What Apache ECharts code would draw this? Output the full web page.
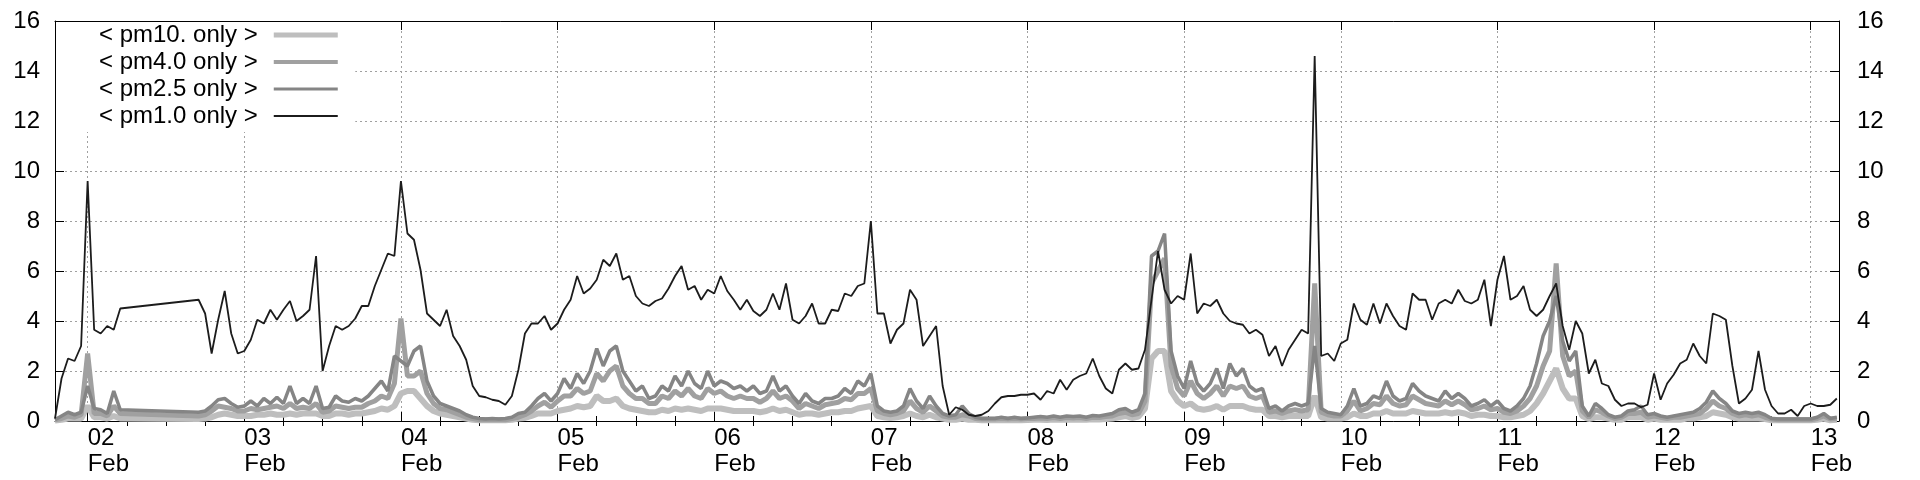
<!DOCTYPE html>
<html>
<head>
<meta charset="utf-8">
<title>pm only</title>
<script src="https://cdn.jsdelivr.net/npm/echarts@6/dist/echarts.min.js"></script>
<style>
  html, body { margin: 0; padding: 0; background: #fff; }
  #chart { width: 1920px; height: 480px; }
</style>
</head>
<body>
<div id="chart"></div>
<script>
// hourly samples, first one at 01 Feb 19:00; null = no data (line bridges the gap)
const YEAR = 2019;
const START = new Date(YEAR, 1, 1, 19, 0).getTime();
const END = new Date(YEAR, 1, 13, 4, 20).getTime();
const HOUR = 3600000;

const days = [2, 3, 4, 5, 6, 7, 8, 9, 10, 11, 12, 13];
const dayLabels = ["02", "03", "04", "05", "06", "07", "08", "09", "10", "11", "12", "13"];
const monthLabel = "Feb";
const yTicks = [0, 2, 4, 6, 8, 10, 12, 14, 16];

const seriesNames = ["< pm10. only >", "< pm4.0 only >", "< pm2.5 only >", "< pm1.0 only >"];

const pm1 = [
  0.1, 1.7, 2.5, 2.4, 3.0, 9.6, 3.65, 3.5, 3.8, 3.65,
  4.5, null, null, null, null, null, null, null, null, null,
  null, null, 4.85, 4.3, 2.7, 4.05, 5.2, 3.5, 2.7, 2.8,
  3.25, 4.05, 3.9, 4.45, 4.05, 4.45, 4.8, 4.0, 4.2, 4.45,
  6.6, 2.0, 3.0, 3.8, 3.65, 3.8, 4.1, 4.6, 4.6, 5.4,
  6.05, 6.7, 6.6, 9.6, 7.5, 7.25, 6.05, 4.3, 4.05, 3.8,
  4.45, 3.4, 3.0, 2.45, 1.4, 1.0, 0.95, 0.85, 0.8, 0.65,
  1.0, 2.05, 3.5, 3.9, 3.9, 4.2, 3.65, 3.9, 4.45, 4.85,
  5.8, 5.1, 5.3, 5.65, 6.45, 6.2, 6.7, 5.65, 5.8, 5.0,
  4.7, 4.6, 4.8, 4.9, 5.3, 5.8, 6.2, 5.25, 5.4, 4.85,
  5.25, 5.1, 5.8, 5.2, 4.85, 4.45, 4.85, 4.4, 4.2, 4.45,
  5.1, 4.45, 5.5, 4.05, 3.9, 4.2, 4.7, 3.9, 3.9, 4.45,
  4.4, 5.1, 5.0, 5.4, 5.5, 8.0, 4.3, 4.3, 3.1, 3.65,
  3.9, 5.25, 4.85, 3.0, 3.4, 3.8, 1.4, 0.25, 0.55, 0.45,
  0.25, 0.2, 0.25, 0.4, 0.7, 0.95, 1.0, 1.0, 1.05, 1.05,
  1.1, 0.85, 1.2, 1.1, 1.65, 1.25, 1.65, 1.8, 1.9, 2.5,
  1.8, 1.3, 1.1, 2.05, 2.3, 2.05, 2.1, 2.85, 4.85, 6.8,
  5.25, 4.7, 5.0, 4.85, 6.7, 4.3, 4.7, 4.6, 4.85, 4.3,
  4.0, 3.9, 3.85, 3.5, 3.65, 3.45, 2.6, 3.0, 2.2, 2.85,
  3.25, 3.65, 3.5, 14.6, 2.6, 2.7, 2.4, 3.1, 3.25, 4.7,
  4.05, 3.85, 4.7, 3.9, 4.7, 4.2, 3.8, 3.65, 5.1, 4.85,
  4.85, 4.05, 4.7, 4.85, 4.7, 5.25, 4.8, 4.7, 4.85, 5.65,
  3.8, 5.65, 6.6, 4.85, 5.0, 5.4, 4.45, 4.2, 4.45, 5.0,
  5.5, 3.8, 2.85, 4.0, 3.5, 1.9, 2.45, 1.5, 1.4, 0.85,
  0.6, 0.7, 0.7, 0.55, 0.65, 1.9, 0.85, 1.5, 1.85, 2.3,
  2.45, 3.1, 2.6, 2.3, 4.3, 4.2, 4.05, 2.2, 0.7, 0.9,
  1.25, 2.8, 1.25, 0.6, 0.3, 0.3, 0.45, 0.2, 0.6, 0.7,
  0.6, 0.6, 0.65, 0.9
];

const pm25 = [
  0.05, 0.2, 0.35, 0.25, 0.35, 1.4, 0.5, 0.45, 0.3, 1.2,
  0.45, null, null, null, null, null, null, null, null, null,
  null, null, 0.35, 0.4, 0.6, 0.85, 0.9, 0.7, 0.55, 0.6,
  0.8, 0.6, 0.9, 0.7, 0.95, 0.7, 1.4, 0.7, 0.9, 0.7,
  1.4, 0.5, 0.55, 1.0, 0.8, 0.75, 0.9, 0.8, 1.0, 1.3,
  1.6, 1.2, 2.6, 2.4, 2.2, 2.8, 3.0, 1.6, 1.0, 0.7,
  0.6, 0.5, 0.4, 0.25, 0.15, 0.1, 0.08, 0.1, 0.08, 0.1,
  0.15, 0.3, 0.35, 0.6, 0.9, 1.1, 0.8, 1.1, 1.7, 1.3,
  1.9, 1.5, 2.0, 2.9, 2.2, 2.8, 3.0, 2.0, 1.6, 1.2,
  1.4, 0.9, 1.0, 1.4, 1.2, 1.8, 1.4, 2.0, 1.5, 1.3,
  2.0, 1.4, 1.6, 1.5, 1.3, 1.4, 1.2, 1.4, 1.1, 1.2,
  1.8, 1.2, 1.4, 1.0, 0.7, 1.1, 0.8, 0.7, 0.9, 0.9,
  1.0, 1.3, 1.1, 1.6, 1.4, 1.9, 0.6, 0.4, 0.35, 0.4,
  0.6, 1.3, 0.8, 0.5, 1.0, 0.6, 0.3, 0.2, 0.25, 0.6,
  0.3, 0.15, 0.1, 0.1, 0.1, 0.15, 0.1, 0.15, 0.1, 0.12,
  0.15, 0.18, 0.15, 0.2, 0.15, 0.2, 0.18, 0.2, 0.15, 0.22,
  0.2, 0.25, 0.3, 0.45, 0.5, 0.35, 0.45, 1.1, 6.6, 6.8,
  7.5, 2.8, 1.8, 1.3, 2.4, 1.5, 1.2, 1.5, 2.1, 1.3,
  2.3, 1.8, 2.1, 1.4, 1.2, 1.3, 0.5, 0.6, 0.4, 0.6,
  0.7, 0.6, 0.7, 3.0, 0.5, 0.35, 0.3, 0.25, 0.6, 1.3,
  0.6, 0.7, 1.0, 0.9, 1.6, 1.0, 0.8, 0.9, 1.5, 1.2,
  1.0, 0.9, 0.8, 1.2, 0.9, 1.1, 0.9, 0.6, 0.7, 0.85,
  0.6, 0.8, 0.5, 0.4, 0.6, 0.9, 1.4, 2.3, 3.4, 4.0,
  5.0, 3.2, 2.4, 2.8, 0.6, 0.2, 0.7, 0.5, 0.25, 0.15,
  0.2, 0.4, 0.45, 0.6, 0.25, 0.3, 0.2, 0.15, 0.2, 0.25,
  0.3, 0.35, 0.5, 0.75, 1.2, 0.9, 0.7, 0.4, 0.3, 0.35,
  0.3, 0.35, 0.25, 0.1, 0.08, 0.08, 0.08, 0.08, 0.08, 0.08,
  0.15, 0.3, 0.1, 0.15
];

const pm4 = [
  0.05, 0.1, 0.2, 0.15, 0.25, 2.7, 0.3, 0.3, 0.2, 0.6,
  0.3, null, null, null, null, null, null, null, null, null,
  null, null, 0.2, 0.25, 0.4, 0.6, 0.55, 0.5, 0.4, 0.4,
  0.5, 0.45, 0.5, 0.55, 0.6, 0.5, 0.7, 0.5, 0.55, 0.5,
  0.7, 0.35, 0.4, 0.6, 0.55, 0.5, 0.55, 0.55, 0.7, 0.8,
  1.0, 0.9, 1.5, 4.1, 1.8, 1.8, 2.0, 1.1, 0.7, 0.5,
  0.45, 0.35, 0.25, 0.15, 0.1, 0.05, 0.05, 0.05, 0.05, 0.05,
  0.1, 0.15, 0.25, 0.4, 0.6, 0.75, 0.55, 0.8, 1.0, 1.0,
  1.3, 1.1, 1.2, 1.9, 1.6, 2.0, 2.2, 1.4, 1.1, 0.9,
  0.9, 0.7, 0.7, 1.0, 0.9, 1.2, 1.0, 1.3, 1.0, 0.9,
  1.3, 1.1, 1.2, 1.0, 0.9, 1.0, 0.9, 0.9, 0.75, 0.9,
  1.2, 0.9, 1.0, 0.8, 0.5, 0.7, 0.6, 0.5, 0.65, 0.7,
  0.75, 0.9, 0.85, 1.1, 1.1, 1.3, 0.4, 0.3, 0.25, 0.3,
  0.4, 0.8, 0.5, 0.35, 0.6, 0.4, 0.2, 0.15, 0.15, 0.25,
  0.2, 0.1, 0.08, 0.08, 0.08, 0.1, 0.08, 0.1, 0.08, 0.1,
  0.1, 0.12, 0.1, 0.14, 0.1, 0.14, 0.12, 0.14, 0.1, 0.15,
  0.14, 0.18, 0.2, 0.3, 0.35, 0.25, 0.3, 0.8, 5.5, 6.0,
  6.5, 2.2, 1.3, 1.0, 1.6, 1.1, 0.9, 1.1, 1.4, 1.0,
  1.4, 1.3, 1.4, 1.0, 0.9, 1.0, 0.35, 0.4, 0.3, 0.4,
  0.45, 0.4, 0.45, 5.5, 0.35, 0.25, 0.2, 0.2, 0.4, 0.8,
  0.4, 0.5, 0.7, 0.65, 1.0, 0.7, 0.6, 0.65, 1.0, 0.85,
  0.7, 0.65, 0.6, 0.8, 0.65, 0.8, 0.65, 0.45, 0.5, 0.6,
  0.45, 0.5, 0.35, 0.3, 0.4, 0.6, 0.9, 1.4, 2.2, 2.8,
  6.3, 2.6, 1.8, 2.0, 0.4, 0.15, 0.45, 0.35, 0.2, 0.1,
  0.15, 0.3, 0.3, 0.35, 0.15, 0.2, 0.15, 0.1, 0.15, 0.15,
  0.2, 0.25, 0.3, 0.5, 0.8, 0.6, 0.5, 0.3, 0.2, 0.25,
  0.2, 0.25, 0.15, 0.08, 0.05, 0.05, 0.05, 0.05, 0.05, 0.05,
  0.1, 0.2, 0.08, 0.1
];

const pm10 = [
  0.02, 0.05, 0.1, 0.1, 0.1, 0.6, 0.15, 0.15, 0.1, 0.2,
  0.1, null, null, null, null, null, null, null, null, null,
  null, null, 0.08, 0.1, 0.15, 0.25, 0.3, 0.25, 0.2, 0.2,
  0.2, 0.25, 0.25, 0.3, 0.25, 0.25, 0.3, 0.25, 0.3, 0.3,
  0.3, 0.2, 0.2, 0.3, 0.3, 0.25, 0.3, 0.3, 0.35, 0.4,
  0.5, 0.45, 0.6, 1.1, 1.2, 1.2, 0.9, 0.6, 0.4, 0.3,
  0.25, 0.2, 0.15, 0.1, 0.05, 0.03, 0.03, 0.03, 0.03, 0.03,
  0.05, 0.1, 0.12, 0.2, 0.3, 0.3, 0.3, 0.4, 0.45, 0.5,
  0.6, 0.55, 0.6, 1.0, 0.8, 0.8, 0.9, 0.6, 0.5, 0.45,
  0.4, 0.35, 0.35, 0.45, 0.4, 0.5, 0.45, 0.5, 0.45, 0.4,
  0.5, 0.5, 0.5, 0.45, 0.4, 0.4, 0.4, 0.4, 0.35, 0.4,
  0.5, 0.4, 0.45, 0.35, 0.25, 0.3, 0.3, 0.25, 0.3, 0.35,
  0.35, 0.4, 0.4, 0.5, 0.55, 0.6, 0.2, 0.15, 0.12, 0.15,
  0.2, 0.3, 0.2, 0.15, 0.25, 0.15, 0.1, 0.05, 0.05, 0.1,
  0.05, 0.05, 0.03, 0.03, 0.03, 0.04, 0.03, 0.04, 0.03, 0.04,
  0.05, 0.05, 0.04, 0.06, 0.05, 0.06, 0.05, 0.06, 0.05, 0.07,
  0.06, 0.08, 0.1, 0.15, 0.2, 0.12, 0.18, 0.5, 2.5, 2.8,
  2.8, 1.2, 0.8, 0.6, 0.7, 0.5, 0.45, 0.5, 0.6, 0.45,
  0.6, 0.6, 0.6, 0.5, 0.45, 0.45, 0.2, 0.2, 0.15, 0.2,
  0.2, 0.2, 0.2, 1.0, 0.15, 0.1, 0.1, 0.1, 0.15, 0.3,
  0.2, 0.2, 0.3, 0.3, 0.4, 0.3, 0.3, 0.3, 0.4, 0.35,
  0.3, 0.3, 0.3, 0.35, 0.3, 0.35, 0.3, 0.2, 0.25, 0.25,
  0.2, 0.2, 0.15, 0.15, 0.2, 0.25, 0.4, 0.7, 1.1, 1.6,
  2.1, 1.3, 0.9, 0.9, 0.2, 0.08, 0.15, 0.15, 0.1, 0.05,
  0.05, 0.15, 0.15, 0.15, 0.05, 0.1, 0.05, 0.05, 0.05, 0.05,
  0.1, 0.1, 0.15, 0.2, 0.35, 0.3, 0.25, 0.15, 0.1, 0.1,
  0.1, 0.1, 0.08, 0.03, 0.03, 0.03, 0.03, 0.03, 0.03, 0.03,
  0.05, 0.1, 0.03, 0.05
];

const FONT = "'Liberation Sans', Arial, sans-serif";
const GRID_STYLE = { color: "#a0a0a0", type: [2, 3], width: 1 };

const dayTicks = days.map(d => new Date(YEAR, 1, d).getTime());
const sixHourTicks = [];
for (let t = new Date(YEAR, 1, 1, 0).getTime(); t <= END; t += 6 * HOUR) {
  if (t >= START && dayTicks.indexOf(t) < 0) sixHourTicks.push(t);
}

function toPairs(values) {
  return values.map((v, i) => [START + i * HOUR, v === null ? "-" : v]);
}

function dayLabel(value) {
  const k = dayTicks.indexOf(value);
  return k < 0 ? "" : dayLabels[k] + "\n" + monthLabel;
}

function xAxisBase(position, ticks, len) {
  return {
    type: "value",
    position: position,
    min: START,
    max: END,
    axisLine: { show: true, onZero: false, lineStyle: { color: "#000", width: 1 } },
    axisTick: { show: true, inside: true, length: len, customValues: ticks, lineStyle: { color: "#000", width: 1 } },
    axisLabel: { show: false },
    splitLine: { show: false },
  };
}

const bottomAxis = xAxisBase("bottom", dayTicks, 9);
bottomAxis.axisLabel = {
  show: true,
  customValues: dayTicks,
  formatter: dayLabel,
  align: "left",
  color: "#000",
  fontFamily: FONT,
  fontSize: 24,
  lineHeight: 26,
  margin: 4,
};
bottomAxis.splitLine = { show: true, lineStyle: GRID_STYLE };

const minorBottom = xAxisBase("bottom", sixHourTicks, 5);
minorBottom.axisLine = { show: false };
const minorTop = xAxisBase("top", sixHourTicks, 5);
minorTop.axisLine = { show: false };

function yAxisBase(position, margin, showGrid) {
  return {
    type: "value",
    position: position,
    min: 0,
    max: 16,
    interval: 2,
    axisLine: { show: true, lineStyle: { color: "#000", width: 1 } },
    axisTick: { show: true, inside: true, length: 9, lineStyle: { color: "#000", width: 1 } },
    axisLabel: {
      color: "#000",
      fontFamily: FONT,
      fontSize: 24,
      margin: margin,
      padding: [0, 0, 7, 0],
      formatter: v => (yTicks.indexOf(v) >= 0 ? String(v) : ""),
    },
    splitLine: { show: showGrid, lineStyle: GRID_STYLE },
  };
}

const colors = ["#bebebe", "#a0a0a0", "#858585", "#1c1c1c"];
const keyWidths = [5, 4, 3, 2];
const lineWidths = [6, 5, 3.5, 1.8];
const seriesData = [pm10, pm4, pm25, pm1];

const option = {
  animation: false,
  backgroundColor: "#fff",
  grid: { left: 55, top: 21, width: 1784, height: 400, containLabel: false },
  legend: {
    orient: "vertical",
    left: 56,
    top: 22,
    align: "right",
    itemWidth: 64,
    itemHeight: 14,
    itemGap: 3,
    padding: [1, 15, 4, 43],
    backgroundColor: "#fff",
    selectedMode: false,
    itemStyle: { opacity: 0 },
    textStyle: { color: "#000", fontFamily: FONT, fontSize: 24, lineHeight: 24, padding: [0, 11, 0, 0] },
    data: seriesNames.map((name, k) => ({
      name: name,
      itemStyle: { opacity: 0 },
      lineStyle: { color: colors[k], width: keyWidths[k] },
    })),
  },
  xAxis: [bottomAxis, xAxisBase("top", dayTicks, 9), minorBottom, minorTop],
  yAxis: [yAxisBase("left", 15, true), yAxisBase("right", 18, false)],
  series: seriesNames.map((name, k) => ({
    name: name,
    type: "line",
    data: toPairs(seriesData[k]),
    symbol: "none",
    showSymbol: false,
    connectNulls: true,
    lineStyle: { color: colors[k], width: lineWidths[k] },
    itemStyle: { color: colors[k] },
  })),
};

const chart = echarts.init(document.getElementById("chart"));
chart.setOption(option);
</script>
</body>
</html>
